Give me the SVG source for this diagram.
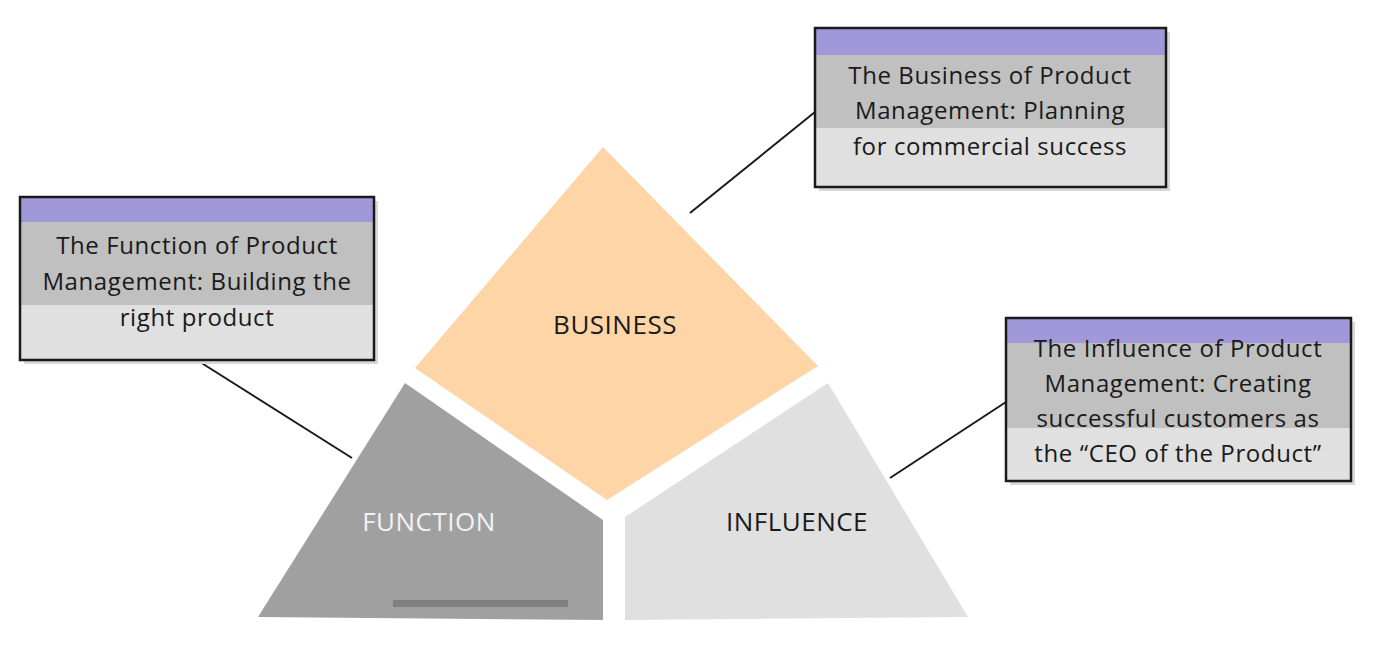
<svg xmlns="http://www.w3.org/2000/svg" width="1375" height="650" viewBox="0 0 1375 650">
<style>
.frame{fill:none;stroke:#1a1a1a;stroke-width:2.5}
.shadow{fill:#d8d8d8}
.hdr{fill:#a098d8}
.band1{fill:#c0c0c0}
.band2{fill:#e0e0e0}
.bt{font-family:"Open Sans","Liberation Sans",sans-serif;font-size:24px;letter-spacing:0.6px;fill:#1a1a1a;text-anchor:middle}
.lbl{font-family:"Open Sans","Liberation Sans",sans-serif;font-size:26px;letter-spacing:0.5px;text-anchor:middle}
.conn{stroke:#1a1a1a;stroke-width:2;fill:none}
</style>
<rect width="1375" height="650" fill="#ffffff"/>
<g id="connectors">
<line class="conn" x1="200" y1="362" x2="352" y2="458"/>
<line class="conn" x1="690" y1="213" x2="815" y2="112"/>
<line class="conn" x1="890" y1="478" x2="1006" y2="402"/>
</g>
<g id="business">
<polygon points="603,147 818,366 607,500 415,368" fill="#fdd5a6"/>
<text class="lbl" x="615" y="334" fill="#1a1a1a">BUSINESS</text>
</g>
<g id="function">
<polygon points="405,383 603,520 603,620 258,617" fill="#a0a0a0"/>
<rect x="393" y="600" width="175" height="7" fill="#808080"/>
<text class="lbl" x="429" y="531" fill="#f2f2f2">FUNCTION</text>
</g>
<g id="influence">
<polygon points="625,517 828,383 968,617 625,620" fill="#e0e0e0"/>
<text class="lbl" x="797" y="531" fill="#1a1a1a">INFLUENCE</text>
</g>
<g id="box-function">
<rect class="shadow" x="24" y="201" width="354" height="163"/>
<rect class="band2" x="20" y="197" width="354" height="163"/>
<rect class="band1" x="20" y="222" width="354" height="83"/>
<rect class="hdr" x="20" y="197" width="354" height="25"/>
<rect class="frame" x="20" y="197" width="354" height="163"/>
<text class="bt" x="197" y="254">The Function of Product</text>
<text class="bt" x="197" y="290">Management: Building the</text>
<text class="bt" x="197" y="326">right product</text>
</g>
<g id="box-business">
<rect class="shadow" x="819" y="32" width="351" height="159"/>
<rect class="band2" x="815" y="28" width="351" height="159"/>
<rect class="band1" x="815" y="55" width="351" height="73"/>
<rect class="hdr" x="815" y="28" width="351" height="27"/>
<rect class="frame" x="815" y="28" width="351" height="159"/>
<text class="bt" x="990" y="84">The Business of Product</text>
<text class="bt" x="990" y="119">Management:  Planning</text>
<text class="bt" x="990" y="155">for commercial success</text>
</g>
<g id="box-influence">
<rect class="shadow" x="1010" y="322" width="345" height="163"/>
<rect class="band2" x="1006" y="318" width="345" height="163"/>
<rect class="band1" x="1006" y="343" width="345" height="85"/>
<rect class="hdr" x="1006" y="318" width="345" height="25"/>
<rect class="frame" x="1006" y="318" width="345" height="163"/>
<text class="bt" x="1178" y="357">The Influence of Product</text>
<text class="bt" x="1178" y="392">Management: Creating</text>
<text class="bt" x="1178" y="427">successful customers as</text>
<text class="bt" x="1178" y="462">the “CEO of the Product”</text>
</g>
</svg>
